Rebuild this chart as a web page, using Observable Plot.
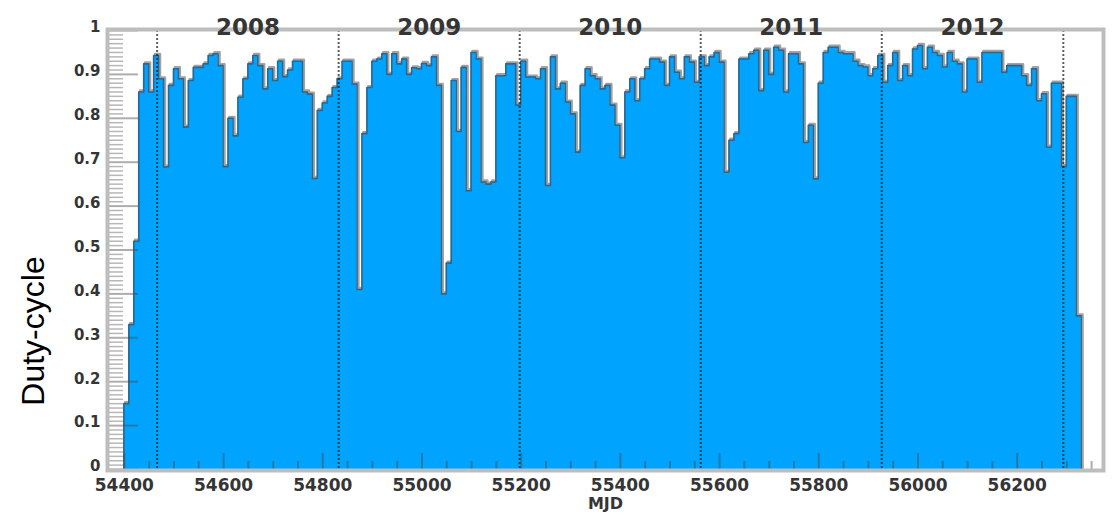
<!DOCTYPE html>
<html><head><meta charset="utf-8">
<script src="https://cdn.jsdelivr.net/npm/d3@7"></script>
<script src="https://cdn.jsdelivr.net/npm/@observablehq/plot@0.6"></script>
<style>html,body{margin:0;padding:0;background:#fff;} #chart{width:1120px;height:515px;}</style>
</head><body><div id="chart"></div>
<script>
// ---- data ----
const binStart = 54399;   // MJD of first bin's left edge
const binWidth = 10;      // days per bin
const dutyCycle = [
  0.15,0.33,0.52,0.86,0.924,0.86,0.943,0.89,0.689,0.875,
  0.913,0.89,0.78,0.886,0.916,0.916,0.924,0.943,0.947,0.92,
  0.69,0.80,0.76,0.848,0.89,0.924,0.943,0.92,0.867,0.913,
  0.886,0.93,0.895,0.91,0.93,0.93,0.86,0.855,0.663,0.818,
  0.835,0.85,0.87,0.89,0.93,0.93,0.878,0.41,0.765,0.87,
  0.93,0.935,0.947,0.90,0.947,0.924,0.935,0.90,0.915,0.913,
  0.925,0.92,0.94,0.875,0.40,0.47,0.886,0.77,0.916,0.635,
  0.95,0.935,0.655,0.65,0.655,0.897,0.897,0.924,0.924,0.83,
  0.93,0.894,0.894,0.89,0.913,0.647,0.94,0.867,0.88,0.837,
  0.81,0.723,0.875,0.913,0.897,0.89,0.867,0.875,0.83,0.784,
  0.71,0.86,0.89,0.84,0.89,0.913,0.935,0.935,0.928,0.875,
  0.94,0.905,0.89,0.94,0.928,0.882,0.94,0.92,0.94,0.95,
  0.928,0.677,0.75,0.765,0.935,0.935,0.947,0.955,0.863,0.955,
  0.90,0.962,0.955,0.86,0.947,0.947,0.924,0.745,0.784,0.662,
  0.88,0.95,0.962,0.962,0.95,0.947,0.947,0.93,0.92,0.917,
  0.897,0.913,0.943,0.882,0.92,0.95,0.886,0.92,0.897,0.958,
  0.966,0.913,0.962,0.95,0.943,0.917,0.95,0.93,0.924,0.86,
  0.935,0.935,0.882,0.95,0.95,0.95,0.95,0.905,0.92,0.92,
  0.92,0.897,0.875,0.913,0.84,0.856,0.734,0.88,0.88,0.69,
  0.85,0.85,0.35
];
const yearLabels = ["2008","2009","2010","2011","2012"];
const yearStarts = [54466, 54832, 55197, 55562, 55927, 56293]; // MJD of Jan 1st
const xTickValues = [54400,54600,54800,55000,55200,55400,55600,55800,56000,56200];
const xTickLabels = ["54400","54600","54800","55000","55200","55400","55600","55800","56000","56200"];
const yTickValues = [0,0.1,0.2,0.3,0.4,0.5,0.6,0.7,0.8,0.9,1];
const yTickLabels = ["0","0.1","0.2","0.3","0.4","0.5","0.6","0.7","0.8","0.9","1"];
const xDomain = [54368, 56372];
const xMinor = d3.range(54400, 56372, 50).filter(v => !xTickValues.includes(v));
const yMinor = d3.range(1, 100).filter(v => v % 10 !== 0).map(v => v / 100);

// ---- derived tables ----
const bins = dutyCycle.map((v, i) => ({x1: binStart + i * binWidth, x2: binStart + (i + 1) * binWidth, v}));
const last = bins[bins.length - 1];
const outline = [{x: bins[0].x1, y: 0}, ...bins.map(b => ({x: b.x1, y: b.v})), {x: last.x2, y: last.v}, {x: last.x2, y: 0}];
const yearMid = yearLabels.map((t, i) => ({t, x: (yearStarts[i] + yearStarts[i + 1]) / 2}));

const W = 1120, H = 515, mL = 108, mR = 18, mT = 30, mB = 46;
const fw = W - mL - mR, fh = H - mT - mB;
const font = "'Liberation Sans', Arial, Helvetica, sans-serif";
const boldFont = "'DejaVu Sans', Verdana, sans-serif";
const tickStroke = "#4a4a4a";
const labelFill = "#353535";

const chart = Plot.plot({
  width: W, height: H,
  marginLeft: mL, marginRight: mR, marginTop: mT, marginBottom: mB,
  x: {domain: xDomain, axis: null},
  y: {domain: [0, 1], axis: null},
  style: {background: "#fff", fontFamily: font, overflow: "visible"},
  marks: [
    Plot.line(outline, {x: "x", y: "y", curve: "step-after", stroke: "#a2a2a2", strokeWidth: 2.5, dx: 1.4, dy: -1.4}),
    Plot.areaY(outline, {x: "x", y: "y", curve: "step-after", fill: "#00a3fd"}),
    Plot.line(outline, {x: "x", y: "y", curve: "step-after", stroke: "#2a6890", strokeWidth: 1.6}),
    Plot.ruleX(yearStarts, {x: d => d, stroke: "#1a1a1a", strokeOpacity: 0.7, strokeWidth: 2, strokeDasharray: "2,2"}),
    // inward ticks
    Plot.tickY(yTickValues, {y: d => d, stroke: tickStroke, strokeOpacity: 0.45, strokeWidth: 2, insetRight: fw - 30}),
    Plot.tickY(yMinor, {y: d => d, stroke: tickStroke, strokeOpacity: 0.4, strokeWidth: 1.5, insetRight: fw - 15}),
    Plot.tickX(xTickValues, {x: d => d, stroke: tickStroke, strokeOpacity: 0.45, strokeWidth: 2, insetTop: fh - 16}),
    Plot.tickX(xMinor, {x: d => d, stroke: tickStroke, strokeOpacity: 0.45, strokeWidth: 2, insetTop: fh - 8}),
    Plot.frame({stroke: "#bdbdbd", strokeWidth: 4, inset: -1}),
    // labels
    Plot.text(xTickValues, {x: d => d, text: (d, i) => xTickLabels[i], frameAnchor: "bottom", dy: 21, fontSize: 17, fontWeight: "bold", fontFamily: boldFont, fill: labelFill}),
    Plot.text(yTickValues, {y: d => d, text: (d, i) => yTickLabels[i], frameAnchor: "left", dx: -8, dy: -3, textAnchor: "end", fontSize: 15, fontWeight: "bold", fontFamily: boldFont, fill: labelFill}),
    Plot.text(yearMid, {x: "x", text: "t", frameAnchor: "top", dy: -12, fontSize: 23, fontWeight: "bold", fontFamily: boldFont, fill: labelFill}),
    Plot.text(["MJD"], {frameAnchor: "bottom", dy: 39, fontSize: 16, fontWeight: "bold", fontFamily: boldFont, fill: labelFill}),
    Plot.text(["Duty-cycle"], {frameAnchor: "left", textAnchor: "middle", dx: -75, dy: 81, rotate: -90, fontSize: 32, fill: "#000"})
  ]
});
document.getElementById("chart").appendChild(chart);
</script>
</body></html>
